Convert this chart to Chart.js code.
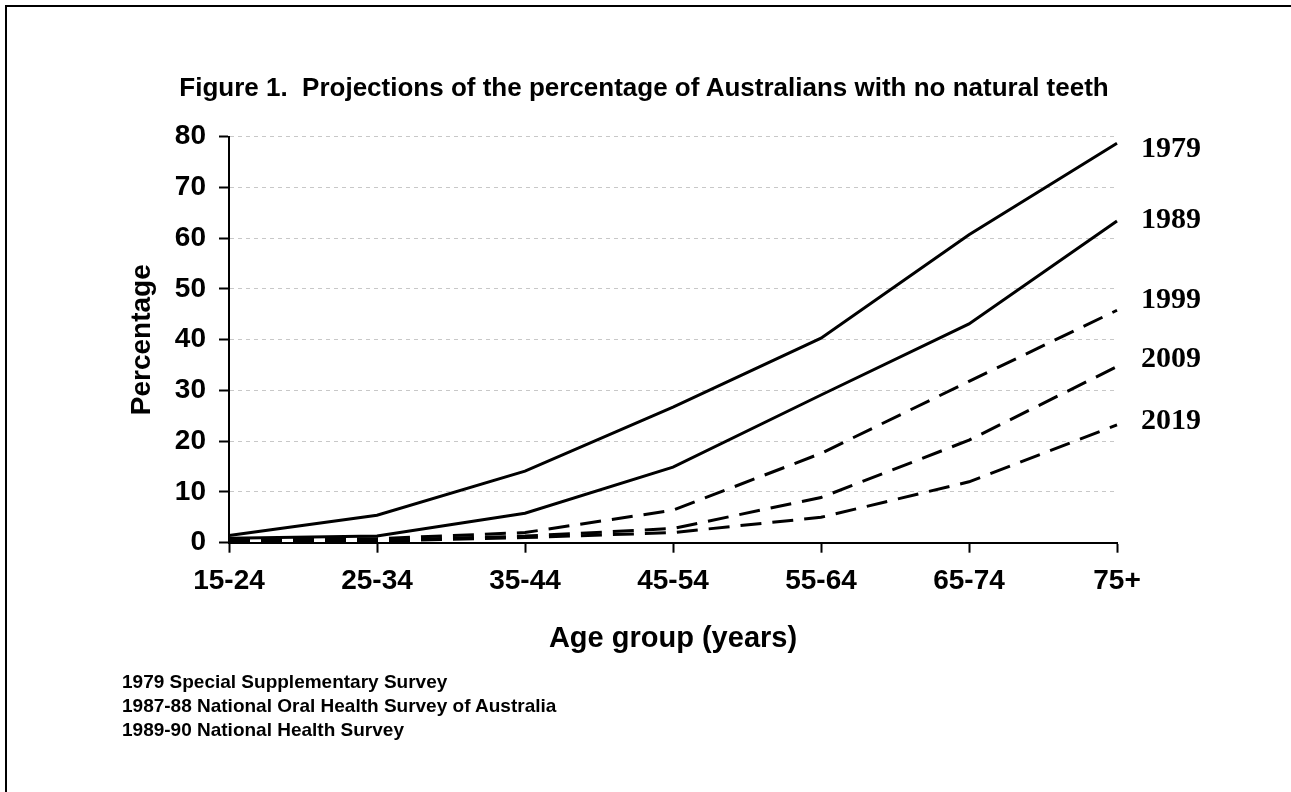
<!DOCTYPE html>
<html>
<head>
<meta charset="utf-8">
<title>Figure 1</title>
<script src="https://cdn.jsdelivr.net/npm/chart.js@4.4.0/dist/chart.umd.min.js"></script>
<style>
  html, body { margin: 0; padding: 0; background: #fff; }
  #wrap { position: relative; width: 1291px; height: 792px; overflow: hidden; }
  #frame { position: absolute; left: 5px; top: 5px; width: 1400px; height: 900px;
           border-top: 2px solid #000; border-left: 2px solid #000; }
  canvas { position: absolute; left: 0; top: 0; }
  #title { position: absolute; left: 0; top: 72px; width: 1288px; text-align: center; color: #000;
           font: bold 26px "Liberation Sans", Arial, sans-serif; line-height: 30px; white-space: pre; }
  #notes { position: absolute; left: 122px; top: 670px; color: #000;
           font: bold 19px "Liberation Sans", Arial, sans-serif; line-height: 24px; }
</style>
</head>
<body>
<div id="wrap">
  <div id="frame"></div>
  <canvas id="teethChart" width="1291" height="792"></canvas>
  <div id="title">Figure 1.  Projections of the percentage of Australians with no natural teeth</div>
  <div id="notes">
    1979 Special Supplementary Survey<br>
    1987-88 National Oral Health Survey of Australia<br>
    1989-90 National Health Survey
  </div>
</div>
<script>
// Age groups along the x axis
const ageGroups = ['15-24', '25-34', '35-44', '45-54', '55-64', '65-74', '75+'];

// Percentage with no natural teeth, one array per year
const years = ['1979', '1989', '1999', '2009', '2019'];
const pct1979 = [1.4, 5.4, 14.1, 26.7, 40.3, 60.7, 78.7];
const pct1989 = [0.9, 1.3, 5.8, 14.9, 29.1, 43.1, 63.4];
const pct1999 = [0.5, 0.8, 2.0, 6.4, 17.6, 31.8, 45.8];
const pct2009 = [0.3, 0.5, 1.3, 2.8, 8.9, 20.2, 34.7];
const pct2019 = [0.2, 0.3, 1.0, 2.0, 5.0, 12.0, 23.2];

// y axis ticks
const yTicks = [0, 10, 20, 30, 40, 50, 60, 70, 80];

const sans = '"Liberation Sans", Arial, sans-serif';

// where each year label sits on the right (in % units)
const labelLevels = [77.6, 63.6, 47.8, 36.2, 24.0];

const endLabels = {
    id: 'endLabels',
    afterDatasetsDraw(chart) {
        const { ctx, chartArea, scales } = chart;
        ctx.save();
        ctx.font = 'bold 30px "Liberation Serif", "Times New Roman", serif';
        ctx.fillStyle = '#000';
        ctx.textAlign = 'left';
        ctx.textBaseline = 'middle';
        years.forEach((yr, i) => {
            ctx.fillText(yr, chartArea.right + 24, scales.y.getPixelForValue(labelLevels[i]));
        });
        ctx.restore();
    }
};

const series = [pct1979, pct1989, pct1999, pct2009, pct2019];

const ctx = document.getElementById('teethChart').getContext('2d');
const teethChart = new Chart(ctx, {
    type: 'line',
    data: {
        labels: ageGroups,
        datasets: series.map((vals, i) => ({
            label: years[i],
            data: vals,
            borderColor: '#000',
            borderWidth: 3,
            borderDash: i < 2 ? [] : [21, 11],
            pointRadius: 0,
            tension: 0,
            fill: false
        }))
    },
    options: {
        responsive: false,
        animation: false,
        layout: {
            padding: { top: 136.7, right: 174, bottom: 129.3, left: 0 }
        },
        scales: {
            x: {
                afterFit: (scale) => { scale.height = 120; },
                grid: {
                    drawOnChartArea: false,
                    tickLength: 10,
                    tickColor: '#000',
                    tickWidth: 2
                },
                border: { color: '#000', width: 2 },
                ticks: {
                    color: '#000',
                    padding: 12,
                    maxRotation: 0,
                    font: { family: sans, size: 28, weight: 'bold' }
                },
                title: {
                    display: true,
                    text: 'Age group (years)',
                    color: '#000',
                    padding: { top: 0, bottom: 6 },
                    font: { family: sans, size: 29, weight: 'bold' }
                }
            },
            y: {
                min: 0,
                max: 80,
                afterFit: (scale) => { scale.width = 229; },
                afterBuildTicks: (scale) => {
                    scale.ticks = yTicks.map(v => ({ value: v }));
                },
                grid: {
                    color: '#c8c8c8',
                    lineWidth: 1,
                    tickLength: 10,
                    tickColor: '#000',
                    tickWidth: 2
                },
                border: { color: '#000', width: 2, dash: [4, 4] },
                ticks: {
                    color: '#000',
                    padding: 13,
                    font: { family: sans, size: 28, weight: 'bold' }
                },
                title: {
                    display: true,
                    text: 'Percentage',
                    color: '#000',
                    padding: { top: 125, bottom: 0 },
                    font: { family: sans, size: 28, weight: 'bold' }
                }
            }
        },
        plugins: {
            legend: { display: false },
            tooltip: { enabled: false },
            title: { display: false }
        }
    },
    plugins: [endLabels]
});
</script>
</body>
</html>
